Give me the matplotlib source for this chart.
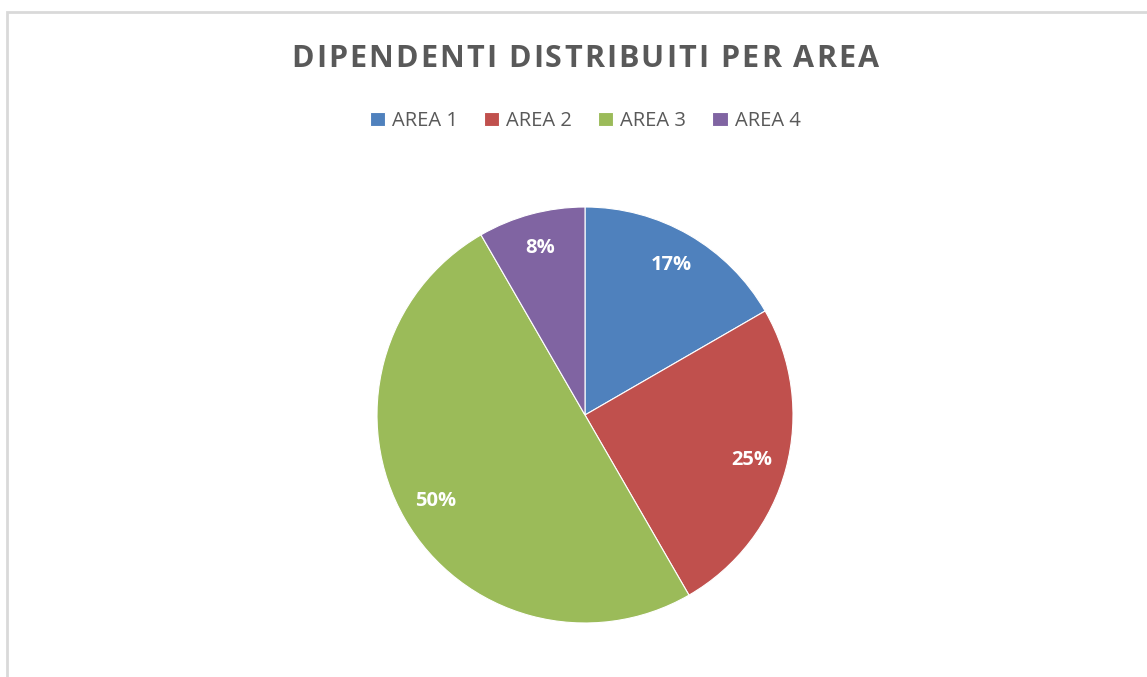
import matplotlib.pyplot as plt
from matplotlib.patches import Rectangle

labels = ['AREA 1', 'AREA 2', 'AREA 3', 'AREA 4']
values = [2, 3, 6, 1]
colors = ['#4F81BD', '#C0504D', '#9BBB59', '#8064A2']
title = 'DIPENDENTI DISTRIBUITI PER AREA'

W, H = 1147, 677
fig = plt.figure(figsize=(W / 100, H / 100), dpi=100)
fig.patch.set_facecolor('white')

# light grey frame (only left and top edges visible)
fig.patches.append(Rectangle((7 / W, -0.1), 1.2, (H - 12) / H + 0.1, transform=fig.transFigure,
                             fill=False, edgecolor='#d9d9d9', linewidth=2))

# pie axes centred at (585, 415) px, radius 208 px
cx, cy, r = 585, 415, 208
ax = fig.add_axes([(cx - r) / W, (H - cy - r) / H, 2 * r / W, 2 * r / H])
wedges, _, autotexts = ax.pie(values, colors=colors, startangle=90, counterclock=False,
                              autopct='%1.0f%%', pctdistance=0.83,
                              wedgeprops=dict(edgecolor='white', linewidth=0.8),
                              textprops=dict(color='white', fontsize=14.5, fontweight='bold',
                                             family='Open Sans'))
ax.set_xlim(-1, 1)
ax.set_ylim(-1, 1)
ax.set_aspect('equal')
ax.axis('off')

# title with letter spacing: place characters one by one
renderer = fig.canvas.get_renderer()
spacing = 2.1  # px between letters
title_kw = dict(fontsize=22, fontweight='bold', color='#595959', family='Open Sans',
                va='center', ha='left')
widths = []
for ch in title:
    t = fig.text(0, 0, ch, **title_kw)
    widths.append(t.get_window_extent(renderer).width)
    t.remove()
total = sum(widths) + spacing * (len(title) - 1)
x = cx - total / 2
for ch, w in zip(title, widths):
    if ch != ' ':
        fig.text(x / W, 1 - 59 / H, ch, **title_kw)
    x += w + spacing

fig.legend(wedges, labels, loc='center', bbox_to_anchor=(cx / W, 1 - 121 / H), ncol=4,
           frameon=False, handlelength=0.75, handleheight=0.75, handletextpad=0.35,
           columnspacing=1.3, prop=dict(family='Open Sans', size=14.5),
           labelcolor='#595959')

fig.savefig('out.png', dpi=100, facecolor='white')
